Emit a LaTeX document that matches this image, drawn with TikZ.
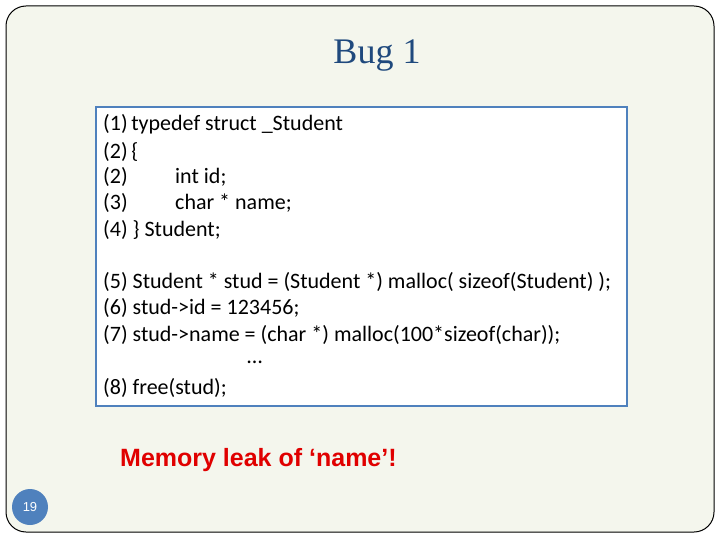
\documentclass[tikz,border=0pt]{standalone}
\usepackage{fontspec}
\setmainfont{Carlito}
\newfontfamily\arialf{Liberation Sans}
\newfontfamily\serf{Liberation Serif}
\begin{document}
\begin{tikzpicture}[x=1pt,y=-1pt,
  codeline/.style={anchor=west,inner sep=0pt,font=\fontsize{22}{26}\selectfont}]
\useasboundingbox (0,0) rectangle (720,540);
\fill[white] (0,0) rectangle (720,540);
\draw[fill={rgb,255:red,244;green,246;blue,237},line width=1pt,rounded corners=20pt] (6,6) rectangle (714,532);
\node[circle,fill={rgb,255:red,79;green,129;blue,189},minimum size=36pt,inner sep=0pt,text=white,font=\arialf\fontsize{13}{14}\selectfont] (pg) at (30,507) {19};
\node[font=\serf\fontsize{36}{40}\selectfont,text={rgb,255:red,31;green,73;blue,125}] (title) at (377,56) {Bug 1};
\draw[fill=white,draw={rgb,255:red,79;green,129;blue,189},line width=1.5pt] (96,107) rectangle (627,406);
\node[codeline] (l1) at (103,124) {(1)\,typedef struct \_Student};
\node[codeline] (l2) at (103,152) {(2)\,\{};
\node[codeline] (l3) at (103,177) {(2)};
\node[codeline] at (175,177) {int id;};
\node[codeline] (l4) at (103,203) {(3)};
\node[codeline] at (175,203) {char * name;};
\node[codeline] (l5) at (103,230) {(4) \} Student;};
\node[codeline] (l6) at (103,282) {(5) Student * stud = (Student *) malloc( sizeof(Student) );};
\node[codeline] (l7) at (103,308) {(6) stud->id = 123456;};
\node[codeline] (l8) at (103,335) {(7) stud->name = (char *) malloc(100*sizeof(char));};
\node[codeline] (dots) at (247,362) {…};
\node[codeline] (l9) at (103,388) {(8) free(stud);};
\node[anchor=west,inner sep=0pt,text={rgb,255:red,224;green,0;blue,0},font=\arialf\bfseries\fontsize{25}{28}\selectfont] (leak) at (120,460) {Memory leak of ‘name’!};
\end{tikzpicture}
\end{document}
